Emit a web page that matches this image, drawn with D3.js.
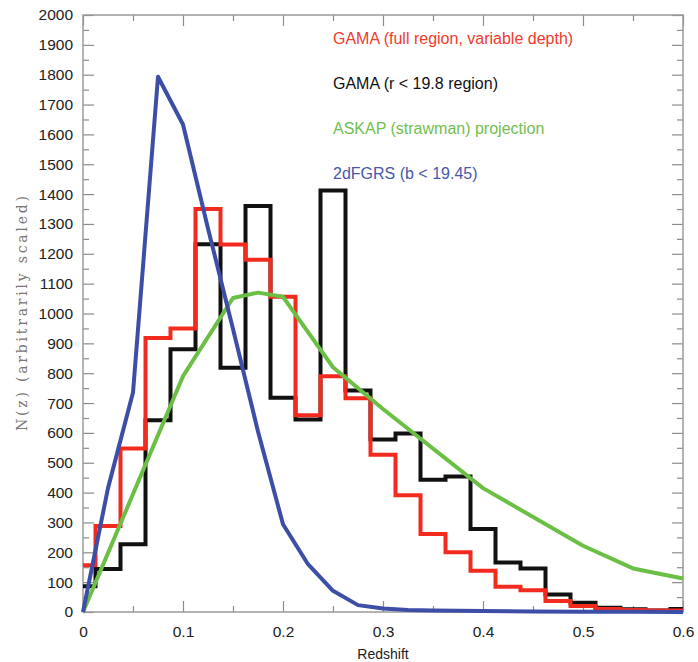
<!DOCTYPE html>
<html>
<head>
<meta charset="utf-8">
<script src="https://cdn.jsdelivr.net/npm/d3@7"></script>
<style>
  body { margin: 0; background: #ffffff; }
  text { font-family: "Liberation Sans", Arial, sans-serif; }
</style>
</head>
<body>
<script>
// bin centres every 0.025 in redshift (first / last bins are half width)
const binCentres = d3.range(0, 25).map(i => i * 0.025);

const gamaFull = [157, 288, 548, 918, 950, 1350, 1231, 1180, 1056, 659, 790, 716, 527,
  391, 261, 200, 138, 85, 73, 37, 20, 10, 7, 5, 5];
const gamaR198 = [86, 144, 227, 642, 880, 1232, 818, 1360, 718, 645, 1412, 742, 578,
  598, 443, 454, 278, 166, 146, 59, 31, 14, 9, 5, 10];

const askapZ = [0, 0.05, 0.1, 0.15, 0.175, 0.2, 0.25, 0.3, 0.4, 0.5, 0.55, 0.6];
const askapN = [0, 395, 790, 1052, 1070, 1056, 820, 680, 415, 222, 146, 112];

const twodfZ = [0, 0.025, 0.05, 0.075, 0.1, 0.125, 0.15, 0.175, 0.2, 0.225, 0.25, 0.275,
  0.3, 0.325, 0.35, 0.4, 0.45, 0.5, 0.55, 0.6];
const twodfN = [0, 415, 735, 1793, 1633, 1285, 948, 605, 294, 160, 71, 23,
  12, 7, 5, 3, 2, 1, 1, 0];

const legendLabels = ["GAMA (full region, variable depth)", "GAMA (r < 19.8 region)",
  "ASKAP (strawman) projection", "2dFGRS (b < 19.45)"];
const legendColors = ["#f32a1e", "#111111", "#6cbf45", "#3c4ea6"];

const draw = () => {
  const width = 698;
  const height = 662;
  const margin = {left: 83, right: 15, top: 15, bottom: 50};

  const svg = d3.select("body").append("svg").attr("width", width).attr("height", height).style("background", "#ffffff");

  const x = d3.scaleLinear().domain([0, 0.6]).range([margin.left, width - margin.right]);
  const y = d3.scaleLinear().domain([0, 2000]).range([height - margin.bottom, margin.top]);

  // axes, ticks pointing inwards
  const tickCol = "#8c8c8c";
  const addAxis = (axis, tr, labels) => {
    const g = svg.append("g").attr("transform", tr).call(axis);
    g.select(".domain").remove();
    g.selectAll("line").attr("stroke", tickCol).attr("stroke-width", 1.2);
    g.selectAll("text").attr("fill", "#222").style("font-size", "15.5px");
    if (!labels) g.selectAll("text").remove();
    return g;
  };

  const yMajor = d3.range(0, 2001, 100);
  const yMinor = d3.range(50, 2000, 100);
  const xMajor = d3.range(0, 0.61, 0.1);
  const xMinor = d3.range(0.05, 0.6, 0.1);

  addAxis(d3.axisLeft(y).tickValues(yMajor).tickSize(-11).tickPadding(10).tickFormat(d3.format("d")),
    `translate(${margin.left},0)`, true);
  addAxis(d3.axisLeft(y).tickValues(yMinor).tickSize(-6).tickFormat(""), `translate(${margin.left},0)`, false);
  addAxis(d3.axisRight(y).tickValues(yMajor).tickSize(-11).tickFormat(""), `translate(${width - margin.right},0)`, false);
  addAxis(d3.axisRight(y).tickValues(yMinor).tickSize(-6).tickFormat(""), `translate(${width - margin.right},0)`, false);

  const xb = addAxis(d3.axisBottom(x).tickValues(xMajor).tickSize(-11).tickPadding(14).tickFormat(d => d3.format("")(+d.toFixed(1))),
    `translate(0,${height - margin.bottom})`, true);
  addAxis(d3.axisBottom(x).tickValues(xMinor).tickSize(-6).tickFormat(""), `translate(0,${height - margin.bottom})`, false);
  addAxis(d3.axisTop(x).tickValues(xMajor).tickSize(-11).tickFormat(""), `translate(0,${margin.top})`, false);
  addAxis(d3.axisTop(x).tickValues(xMinor).tickSize(-6).tickFormat(""), `translate(0,${margin.top})`, false);

  // frame
  svg.append("rect").attr("x", x(0)).attr("y", y(2000)).attr("width", x(0.6) - x(0)).attr("height", y(0) - y(2000))
    .attr("fill", "none").attr("stroke", "#9a9a9a").attr("stroke-width", 1.5);

  // histograms as step lines
  const stepLine = d3.line().x(d => x(d[0])).y(d => y(d[1])).curve(d3.curveStepAfter);
  const histPoints = (vals) => {
    const pts = binCentres.map((c, i) => [Math.max(0, c - 0.0125), vals[i]]);
    pts.push([0.6, vals[vals.length - 1]]);
    return pts;
  };

  svg.append("path").attr("d", stepLine(histPoints(gamaR198))).attr("fill", "none")
    .attr("stroke", legendColors[1]).attr("stroke-width", 4);
  svg.append("path").attr("d", stepLine(histPoints(gamaFull))).attr("fill", "none")
    .attr("stroke", legendColors[0]).attr("stroke-width", 4);

  const line = d3.line().x(d => x(d[0])).y(d => y(d[1]));
  svg.append("path").attr("d", line(d3.zip(askapZ, askapN))).attr("fill", "none")
    .attr("stroke", legendColors[2]).attr("stroke-width", 4).attr("stroke-linejoin", "round");
  svg.append("path").attr("d", line(d3.zip(twodfZ, twodfN))).attr("fill", "none")
    .attr("stroke", legendColors[3]).attr("stroke-width", 4).attr("stroke-linejoin", "round");

  // legend (text only)
  const legend = svg.append("g").selectAll("text").data(legendLabels).enter().append("text")
    .attr("x", 333).attr("y", (d, i) => 44 + i * 45)
    .style("font-size", "16px")
    .attr("fill", (d, i) => ["#f03a2c", "#111111", "#72c04f", "#4858aa"][i])
    .text(d => d);

  // axis titles
  svg.append("text").attr("x", x(0.3)).attr("y", 659).attr("text-anchor", "middle")
    .style("font-size", "14px").attr("fill", "#222").text("Redshift");

  svg.append("text").attr("transform", `translate(27,${(y(0) + y(2000)) / 2}) rotate(-90)`)
    .attr("text-anchor", "middle").style("font-family", "'DejaVu Serif', serif").style("font-size", "14px")
    .attr("fill", "#777").attr("textLength", 235).attr("lengthAdjust", "spacing")
    .text("N(z) (arbitrarily scaled)");
}

draw();
</script>
</body>
</html>
